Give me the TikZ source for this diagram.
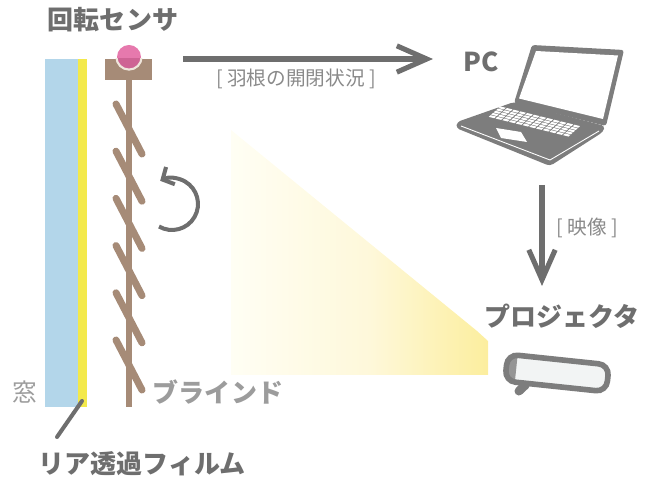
\documentclass[tikz,border=0pt]{standalone}
\usepackage{fontspec}
\setmainfont{Noto Sans CJK JP}
\usetikzlibrary{arrows.meta}
\definecolor{glassblue}{HTML}{B3D6EA}
\definecolor{filmyellow}{HTML}{F3E94B}
\definecolor{slatbrown}{HTML}{A68B77}
\definecolor{sensorpink}{HTML}{E679AD}
\definecolor{sensorpinkdk}{HTML}{CE6394}
\definecolor{ringbeige}{HTML}{EFE6DC}
\definecolor{ink}{HTML}{6E6E6E}
\definecolor{softink}{HTML}{8A8A8A}
\definecolor{paleink}{HTML}{9C9C9C}
\definecolor{devgray}{HTML}{7D7D7D}
\definecolor{projwhite}{HTML}{F2F4F4}
\definecolor{projcap}{HTML}{959595}
\definecolor{beamfaint}{HTML}{FFFEF4}
\definecolor{beampale}{HTML}{FEF8DA}
\definecolor{beamyellow}{HTML}{FCEE9E}
% the light stays almost white near the blind and turns yellow towards the lens
\pgfdeclarehorizontalshading{beamlight}{100bp}{color(0bp)=(beamfaint); color(25bp)=(beamfaint);
  color(52bp)=(beampale); color(75bp)=(beamyellow); color(100bp)=(beamyellow)}
\tikzset{
  title/.style={font=\bfseries\fontsize{14.8}{16}\selectfont,text=ink,inner sep=0},
  note/.style={font=\fontsize{11.2}{13}\selectfont,text=softink,inner sep=0},
  dim/.style={font=\bfseries\fontsize{14.8}{16}\selectfont,text=paleink,inner sep=0},
  post/.style={slatbrown,line width=3.4pt},
  slat/.style={slatbrown,line width=4pt,line cap=round},
  flow/.style={ink,line width=2.9pt,-{Straight Barb[length=17pt,width=15pt]}},
  turn/.style={ink,line width=2.3pt,-{Straight Barb[length=5pt,width=11pt]}},
  lead/.style={ink,line width=2.3pt,line cap=round},
}

\begin{document}
\begin{tikzpicture}[x=0.02cm,y=-0.02cm]
  \useasboundingbox (0,0) rectangle (660,479);
  % light from the projector onto the blind
  \shade[shading=beamlight]
    (231,130) -- (477,331) -- (488,341) -- (488,375) -- (231,375) -- cycle;
  % window pane with the rear film on it
  \fill[glassblue] (45,59) rectangle (78,407);
  \fill[filmyellow] (78,59) rectangle (87,407);
  % blind: post, slats and the sensor on top
  \draw[post] (129,80) -- (129,407);
  \foreach \k in {0,...,5}
    \draw[slat] (116,{104+47.2*\k}) -- ++(26,50);
  \fill[slatbrown] (105,59) rectangle (152,80);
  \fill[sensorpink] (129,57) circle[radius=12];
  \begin{scope}
    \clip (105,59) rectangle (152,80);
    \fill[sensorpinkdk] (129,57) circle[radius=12];
    \draw[ringbeige,line width=1.2pt] (129,57) circle[radius=12.6];
  \end{scope}
  \draw[turn] (172,204) ++(120:26) arc[start angle=120,end angle=-117,radius=26];
  % laptop
  \fill[devgray,rounded corners=1.5pt] (532,45) -- (624,50) -- (606,126) -- (514,103) -- cycle;
  \fill[white] (536,51) -- (618,55.5) -- (603,119) -- (519,98.5) -- cycle;
  \fill[devgray,rounded corners=2pt] (457,122) -- (514,102) -- (605,126) -- (603,132)
    -- (550,166) -- (456,128) -- cycle;
  \draw[white,line width=0.5pt] (461,126) -- (550,160) -- (599,131);
  \begin{scope}[shift={(10.0cm,-2.12cm)},x={(1.62cm,-0.40cm)},y={(-0.24cm,-0.22cm)}]
    \foreach \i in {0,...,11}
      \foreach \j in {0,...,4}
        \fill[white] ({(\i+0.09)/12},{(\j+0.12)/5}) -- ({(\i+0.91)/12},{(\j+0.12)/5})
          -- ({(\i+0.91)/12},{(\j+0.88)/5}) -- ({(\i+0.09)/12},{(\j+0.88)/5}) -- cycle;
  \end{scope}
  \fill[white] (496,128) -- (521,132) -- (527,142) -- (501,138) -- cycle;
  % projector
  \begin{scope}[shift={(557,373)},rotate=-6]
    \draw[devgray,line width=5pt,line cap=round] (-30,15) -- (-36,22);
    \fill[projwhite] (-51,-13.5) [rounded corners=6pt] rectangle (51,13.5);
    \begin{scope}
      \clip[rounded corners=6pt] (-51,-13.5) rectangle (51,13.5);
      \fill[projcap] (-51,-13.5) rectangle (-41,13.5);
    \end{scope}
    \draw[devgray,line width=3.2pt,rounded corners=6pt] (-51,-13.5) rectangle (51,13.5);
  \end{scope}
  % labels
  \node[title] (sensorlab) at (113,20) {回転センサ};
  \node[note] (flowlab) at (296,79) {[ 羽根の開閉状況 ]};
  \node[title] (pclab) at (481,62) {PC};
  \node[note] (videolab) at (587,228) {[ 映像 ]};
  \node[title] (projlab) at (562,316) {プロジェクタ};
  \node[dim,font=\fontsize{14}{16}\selectfont] (winlab) at (25,392) {窓};
  \node[dim] (blindlab) at (218,392) {ブラインド};
  \node[title] (filmlab) at (142,464) {リア透過フィルム};
  % connectors
  \coordinate (flowS) at (183,59);
  \coordinate (flowE) at (433,59);
  \coordinate (videoS) at (542,185);
  \coordinate (videoE) at (542,286);
  \coordinate (filmpt) at (82,401);
  \coordinate (filmend) at (57,437);
  \draw[flow] (flowS) -- (flowE);
  \draw[flow] (videoS) -- (videoE);
  \draw[lead] (filmpt) -- (filmend);
\end{tikzpicture}
\end{document}
